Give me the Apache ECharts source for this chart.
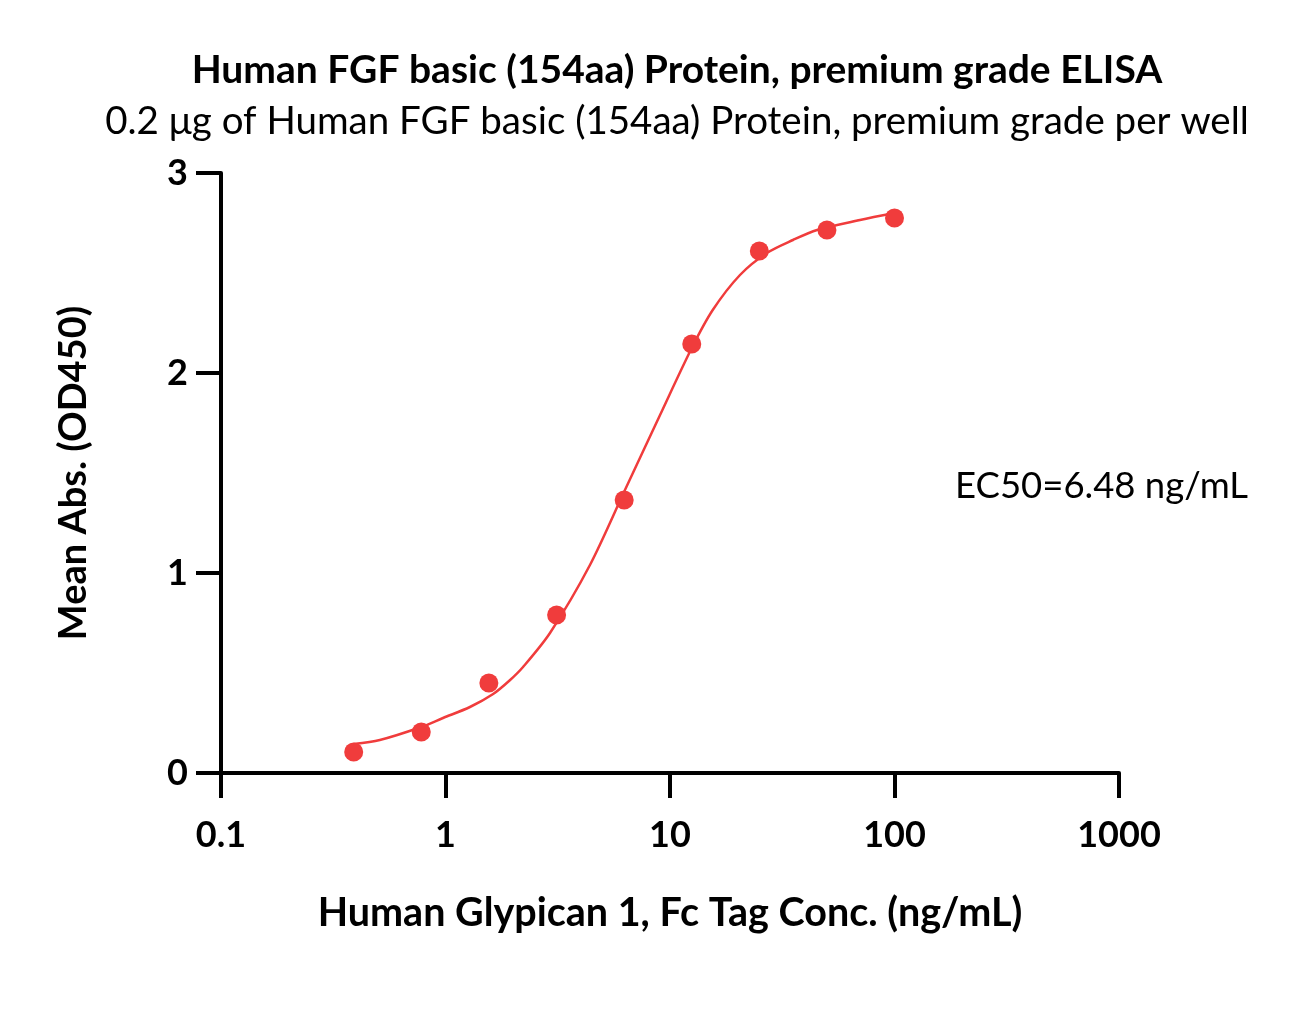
<!DOCTYPE html>
<html>
<head>
<meta charset="utf-8">
<script src="https://cdn.jsdelivr.net/npm/echarts@6/dist/echarts.min.js"></script>
<style>
html,body{margin:0;padding:0;background:#fff;}
#chart{width:1295px;height:1029px;}
</style>
</head>
<body>
<div id="chart"></div>
<script>
// measured points (conc ng/mL, OD450)
var conc = [0.39, 0.78, 1.56, 3.125, 6.25, 12.5, 25, 50, 100];
var od = [0.105, 0.205, 0.45, 0.79, 1.365, 2.145, 2.61, 2.715, 2.775];

// fitted curve
var fitX = [0.39, 0.51, 0.78, 0.975, 1.285, 1.63, 1.94, 2.215, 2.92, 4.4, 6.3, 9.03, 12.5, 15.5, 20.5, 27, 35.3, 45.2, 70.2, 100];
var fitY = [0.145, 0.165, 0.23, 0.275, 0.33, 0.395, 0.465, 0.53, 0.70, 1.04, 1.415, 1.79, 2.125, 2.315, 2.49, 2.60, 2.665, 2.715, 2.765, 2.80];

var xTicks = [0.1, 1, 10, 100, 1000];
var yTicks = [0, 1, 2, 3];

var red = '#F03C3C';
var font = 'Lato';

var pts = [];
for (var i = 0; i < conc.length; i++) pts.push([conc[i], od[i]]);
var fit = [];
for (var j = 0; j < fitX.length; j++) fit.push([fitX[j], fitY[j]]);

var mychart = echarts.init(document.getElementById('chart'));
var option = {
    backgroundColor: '#fff',
    animation: false,
    title: [
        {
            text: 'Human FGF basic (154aa) Protein, premium grade ELISA',
            left: 672, top: 46, textAlign: 'center',
            textStyle: {fontFamily: font, fontWeight: 'bold', fontSize: 39, color: '#000'}
        },
        {
            text: '0.2 μg of Human FGF basic (154aa) Protein, premium grade per well',
            left: 672, top: 97, textAlign: 'center',
            textStyle: {fontFamily: font, fontWeight: 'normal', fontSize: 38.5, color: '#000'}
        }
    ],
    graphic: [
        {
            type: 'text', left: 955, top: 468,
            style: {text: 'EC50=6.48 ng/mL', font: '36.5px ' + font, fill: '#000'}
        }
    ],
    grid: {left: 221, right: 176, top: 173, bottom: 256},
    xAxis: {
        type: 'log', logBase: 10, min: 0.1, max: 1000,
        name: 'Human Glypican 1, Fc Tag Conc. (ng/mL)',
        nameLocation: 'middle', nameGap: 120,
        nameTextStyle: {fontFamily: font, fontWeight: 'bold', fontSize: 39.5, color: '#000'},
        axisLine: {lineStyle: {color: '#000', width: 4}},
        axisTick: {show: true, length: 25, lineStyle: {color: '#000', width: 4}},
        minorTick: {show: false},
        splitLine: {show: false},
        axisLabel: {
            margin: 44, fontFamily: font, fontWeight: 'bold', fontSize: 36, color: '#000',
            formatter: function (v) {
                for (var k = 0; k < xTicks.length; k++) {
                    if (Math.abs(v - xTicks[k]) / xTicks[k] < 1e-6) return String(xTicks[k]);
                }
                return '';
            }
        }
    },
    yAxis: {
        type: 'value', min: yTicks[0], max: yTicks[yTicks.length - 1], interval: 1,
        name: 'Mean Abs. (OD450)',
        nameLocation: 'middle', nameGap: 128,
        nameTextStyle: {fontFamily: font, fontWeight: 'bold', fontSize: 38, color: '#000'},
        axisLine: {show: true, lineStyle: {color: '#000', width: 4}},
        axisTick: {show: true, length: 25, lineStyle: {color: '#000', width: 4}},
        splitLine: {show: false},
        axisLabel: {margin: 33, fontFamily: font, fontWeight: 'bold', fontSize: 36, color: '#000'}
    },
    series: [
        {
            type: 'line', data: fit, smooth: 0.3, showSymbol: false,
            lineStyle: {color: red, width: 2.5}, z: 2
        },
        {
            type: 'scatter', data: pts, symbolSize: 19,
            itemStyle: {color: red, opacity: 1}, z: 3
        }
    ]
};
mychart.setOption(option);
</script>
</body>
</html>
